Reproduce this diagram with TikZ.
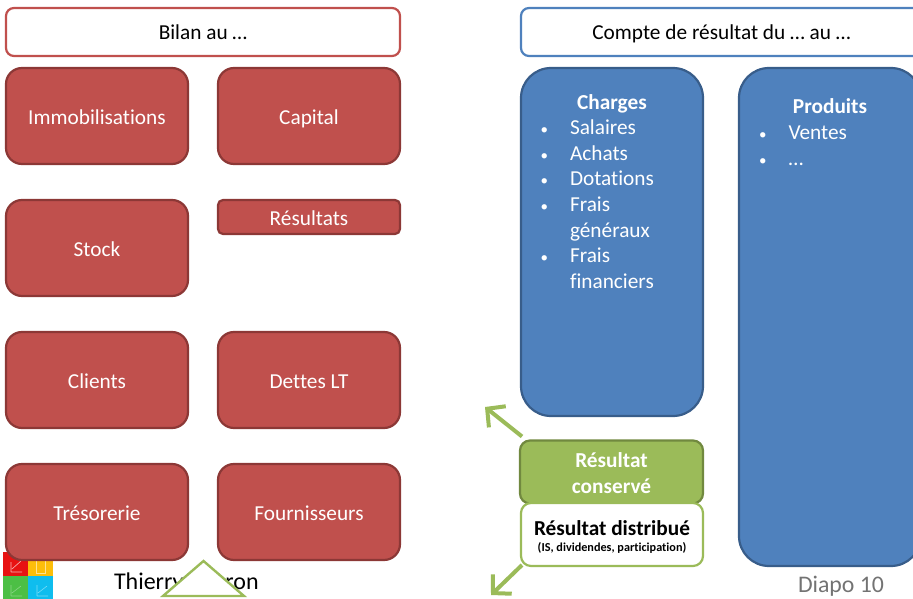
\documentclass[tikz,border=0pt]{standalone}
\usepackage{fontspec}
\setmainfont[Ligatures=NoCommon]{Carlito}
\usetikzlibrary{arrows.meta}
\definecolor{redf}{HTML}{C0504D}\definecolor{redd}{HTML}{8C3836}
\definecolor{bluef}{HTML}{4F81BD}\definecolor{blued}{HTML}{385D8A}
\definecolor{greenf}{HTML}{9BBB59}\definecolor{greend}{HTML}{71893F}
\definecolor{logor}{HTML}{E81212}\definecolor{logoo}{HTML}{FDBE0A}
\definecolor{logog}{HTML}{4CBF45}\definecolor{logoc}{HTML}{0FBDEE}
\newcommand{\bul}{\makebox[27pt][l]{\hspace*{-2.5pt}{\fontsize{15}{15}\selectfont •}}}
\newcommand{\nobul}{\hspace*{27pt}}
\tikzset{
  x=1pt,y=-1pt,
  every node/.style={inner sep=0pt,outer sep=0pt},
  basebox/.style={rectangle,line width=2.2pt,text height=17pt,text depth=0pt,font=\fontsize{21.3}{25}\selectfont},
  redbox/.style={basebox,draw=redd,fill=redf,text=white,rounded corners=16pt,minimum width=182pt,minimum height=96pt},
  bluebox/.style={basebox,draw=blued,fill=bluef,text=white,rounded corners=30pt,minimum width=182pt},
  titlebox/.style={basebox,text height=15.5pt,fill=white,rounded corners=8pt,minimum height=48pt,text=black},
  listtext/.style={text=white,align=left,anchor=north west,font=\fontsize{21.3}{25.65}\selectfont},
  greenarrow/.style={draw=greenf,line width=4pt,-{Straight Barb[length=13pt,width=27pt,line width=4pt]}},
}
\begin{document}
\begin{tikzpicture}
\clip (0,0) rectangle (913,599);
% logo
\fill[logor] (3,552) rectangle (28,576);
\fill[logoo] (28,552) rectangle (53,576);
\fill[logog] (3,576) rectangle (28,599);
\fill[logoc] (28,576) rectangle (53,599);
\draw[white!70!logor,line width=.6pt] (11,572) -- (11,562) (11,572) -- (22,572) (12,569) -- (21,561);
\draw[white!55!logoo,line width=.6pt] (36,560) rectangle (45,573);
\draw[white!35!logog,line width=.6pt] (11,596) -- (11,585) (11,596) -- (22,596) (12,593) -- (21,586);
\draw[white!45!logoc,line width=.6pt] (37,596) -- (37,585) (37,596) -- (48,596) (38,593) -- (47,586);
% footer texts
\node[font=\fontsize{24}{28}\selectfont,text=black,anchor=base west] (author) at (114,589) {Thierry\hspace{42pt}ron};
\node[font=\fontsize{23.8}{28}\selectfont,text=black!55,anchor=base west] (page) at (798,592) {Diapo 10};
\draw[draw=greenf,fill=white,line width=2.4pt,line join=miter] (203.5,561) -- (244,596) -- (163,596) -- cycle;
% balance sheet
\node[titlebox,draw=redf,minimum width=394pt] (bilan) at (203,32) {Bilan au …};
\node[redbox] (immo) at (97,116) {Immobilisations};
\node[redbox] (capital) at (309,116) {Capital};
\node[redbox] (stock) at (97,248) {Stock};
\node[redbox,rounded corners=5pt,minimum height=34pt] (resultats) at (309,217) {Résultats};
\node[redbox] (clients) at (97,380) {Clients};
\node[redbox] (dettes) at (309,380) {Dettes LT};
\node[redbox] (treso) at (97,512) {Trésorerie};
\node[redbox] (fourn) at (309,512) {Fournisseurs};
% income statement
\node[titlebox,draw=bluef,minimum width=401pt] (compte) at (721.5,32) {Compte de résultat du … au …};
\node[bluebox,minimum height=348pt] (charges) at (612,242) {};
\node[bluebox,minimum height=498pt] (produits) at (830,317) {};
\node[text=white,font=\bfseries\fontsize{21.3}{25}\selectfont] (chtitle) at (612,104) {Charges};
\node[listtext] (chlist) at (543,119.8) {\bul Salaires\\\bul Achats\\\bul Dotations\\\bul Frais\\\nobul généraux\\\bul Frais\\\nobul financiers};
\node[text=white,font=\bfseries\fontsize{21.3}{25}\selectfont] (prtitle) at (830,106) {Produits};
\node[listtext] (prlist) at (761.5,125.7) {\bul Ventes\\\bul …};
% result boxes
\node[basebox,draw=greend,fill=greenf,minimum width=183pt,minimum height=63pt,rounded corners=10pt] (conserve) at (611.5,472) {};
\node[text=white,align=center,font=\bfseries\fontsize{21.3}{26}\selectfont] (conservetext) at (611.5,473) {Résultat\\conservé};
\node[basebox,draw=greenf,fill=white,text=black,rounded corners=10pt,minimum width=182pt,minimum height=63pt] (distrib) at (612,534.5) {};
\node[font=\bfseries\fontsize{21.3}{25}\selectfont,text=black] (distribtitle) at (612,528.5) {Résultat distribué};
\node[font=\bfseries\fontsize{12.2}{14}\selectfont,text=black] (distribsub) at (612,548) {(IS, dividendes, participation)};
\coordinate (upfree) at (485,407);
\coordinate (downfree) at (491,595);
\draw[greenarrow] (conserve.north west) ++(2,-4) -- (upfree);
\draw[greenarrow] (distrib.south west) ++(1,-1) -- (downfree);
\end{tikzpicture}
\end{document}
